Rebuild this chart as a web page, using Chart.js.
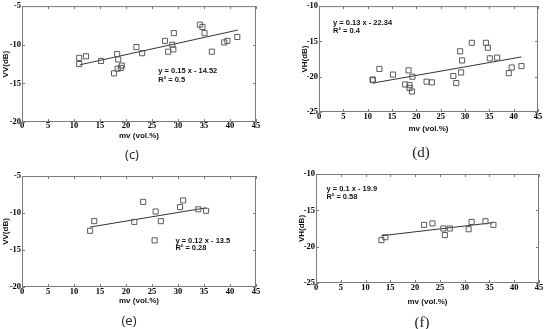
<!DOCTYPE html>
<html>
<head>
<meta charset="utf-8">
<script src="https://cdn.jsdelivr.net/npm/chart.js@4.4.1/dist/chart.umd.min.js"></script>
<style>
  html, body { margin: 0; padding: 0; background: #fff; }
  body { width: 550px; height: 329px; position: relative; overflow: hidden; }
  .panel { position: absolute; width: 275px; }
  .cap { position: absolute; transform: translate(-50%, -50%); white-space: nowrap; color: #222; }
</style>
</head>
<body>
<div class="panel" style="left:0;top:0;height:165px"><canvas id="chartC"></canvas></div>
<div class="panel" style="left:275px;top:0;height:165px"><canvas id="chartD"></canvas></div>
<div class="panel" style="left:0;top:165px;height:164px"><canvas id="chartE"></canvas></div>
<div class="panel" style="left:275px;top:165px;height:164px"><canvas id="chartF"></canvas></div>
<div class="cap" style="left:132px;top:154px;font:13px 'Open Sans',sans-serif">(c)</div>
<div class="cap" style="left:421px;top:152px;font:15px 'Liberation Serif',serif">(d)</div>
<div class="cap" style="left:129px;top:320px;font:13px 'Open Sans',sans-serif">(e)</div>
<div class="cap" style="left:422px;top:322px;font:15px 'Liberation Serif',serif">(f)</div>
<script>
// tick labels
const mvTicks = [0, 5, 10, 15, 20, 25, 30, 35, 40, 45];

// (c) VV vs soil moisture
const mvC = [11.0, 11.0, 12.3, 15.2, 17.7, 18.3, 18.4, 18.5, 19.0, 19.2, 22.0, 23.1, 27.5, 28.1, 28.9, 29.1, 29.2, 34.2, 34.7, 35.1, 36.5, 38.9, 39.5, 41.4];
const vvC = [-11.7, -12.5, -11.5, -12.1, -13.7, -11.2, -13.1, -11.9, -13.0, -12.7, -10.3, -11.1, -9.5, -10.9, -10.0, -10.6, -8.5, -7.4, -7.7, -8.5, -10.9, -9.7, -9.5, -9.0];
const fitCx = [11.1, 41.5];
const fitCy = [-12.6, -8.1];

// (d) VH vs soil moisture
const mvD = [11.0, 11.1, 12.4, 15.2, 17.7, 18.4, 18.6, 18.6, 19.1, 19.2, 22.1, 23.2, 27.6, 28.2, 29.0, 29.2, 29.4, 31.4, 34.3, 34.7, 35.1, 36.6, 39.0, 39.6, 41.6];
const vhD = [-20.4, -20.5, -18.9, -19.7, -21.1, -19.1, -21.2, -21.6, -22.1, -20.0, -20.7, -20.8, -19.9, -20.9, -16.4, -19.4, -17.7, -15.2, -15.2, -15.9, -17.4, -17.3, -19.5, -18.7, -18.5];
const fitDx = [11.1, 41.6];
const fitDy = [-20.9, -17.2];

// (e) VV, second set
const mvE = [13.1, 13.9, 21.6, 23.3, 25.5, 25.7, 26.7, 30.4, 31.0, 33.9, 35.4];
const vvE = [-12.4, -11.1, -11.2, -8.5, -13.7, -9.8, -11.1, -9.2, -8.3, -9.5, -9.7];
const fitEx = [13.1, 35.4];
const fitEy = [-11.9, -9.3];

// (f) VH, second set
const mvF = [13.2, 14.0, 21.8, 23.5, 25.7, 26.0, 27.0, 30.8, 31.4, 34.2, 35.8];
const vhF = [-19.1, -18.7, -17.0, -16.8, -17.5, -18.4, -17.5, -17.6, -16.6, -16.5, -17.0];
const fitFx = [13.2, 35.7];
const fitFy = [-18.5, -16.7];

const eqC = ['y = 0.15 x - 14.52', 'R\u00b2 = 0.5'];
const eqD = ['y = 0.13 x - 22.34', 'R\u00b2 = 0.4'];
const eqE = ['y = 0.12 x - 13.5', 'R\u00b2 = 0.28'];
const eqF = ['y = 0.1 x - 19.9', 'R\u00b2 = 0.58'];

const tickFont = { family: "'Liberation Serif', serif", size: 8.5, weight: 'bold' };
const titleFont = { family: "'Liberation Sans', Arial, sans-serif", size: 8, weight: 'bold' };

// box round the plot with small inward ticks, plus the fit equation
const frameBox = {
  id: 'frameBox',
  afterDatasetsDraw(chart, args, opts) {
    const { ctx, chartArea: a, scales: { x, y } } = chart;
    ctx.save();
    ctx.strokeStyle = '#7a7a7a';
    ctx.lineWidth = 1;
    ctx.strokeRect(a.left + 0.5, a.top + 0.5, a.right - a.left - 1, a.bottom - a.top - 1);
    ctx.beginPath();
    x.ticks.forEach(t => {
      const px = Math.round(x.getPixelForValue(t.value)) + 0.5;
      ctx.moveTo(px, a.bottom); ctx.lineTo(px, a.bottom - 3);
      ctx.moveTo(px, a.top); ctx.lineTo(px, a.top + 3);
    });
    y.ticks.forEach(t => {
      const py = Math.round(y.getPixelForValue(t.value)) + 0.5;
      ctx.moveTo(a.left, py); ctx.lineTo(a.left + 3, py);
      ctx.moveTo(a.right, py); ctx.lineTo(a.right - 3, py);
    });
    ctx.stroke();
    ctx.fillStyle = '#111';
    ctx.font = "bold 7.5px 'Liberation Sans', Arial, sans-serif";
    ctx.textBaseline = 'middle';
    opts.lines.forEach((s, i) => {
      ctx.fillText(s, x.getPixelForValue(opts.atX), y.getPixelForValue(opts.atY[i]));
    });
    ctx.restore();
  }
};

function makePanel(id, xs, ys, fx, fy, yMin, yMax, yTitle, eq, eqX, eqY, g) {
  const pts = xs.map((v, i) => ({ x: v, y: ys[i] }));
  const fit = fx.map((v, i) => ({ x: v, y: fy[i] }));
  return new Chart(document.getElementById(id), {
    type: 'scatter',
    data: {
      datasets: [
        {
          data: pts,
          pointStyle: 'rect',
          pointRadius: 3.6,
          pointBorderWidth: 1,
          pointBorderColor: '#5a5a5a',
          pointBackgroundColor: 'rgba(255,255,255,0)',
          showLine: false
        },
        {
          data: fit,
          showLine: true,
          borderColor: '#333',
          borderWidth: 1,
          pointRadius: 0
        }
      ]
    },
    options: {
      responsive: true,
      maintainAspectRatio: false,
      animation: false,
      events: [],
      layout: { padding: g.pad },
      plugins: {
        legend: { display: false },
        tooltip: { enabled: false },
        frameBox: { lines: eq, atX: eqX, atY: eqY }
      },
      scales: {
        x: {
          type: 'linear', min: 0, max: 45,
          grid: { display: false, drawTicks: false, tickLength: 0 },
          border: { display: false },
          afterBuildTicks: s => { s.ticks = mvTicks.map(v => ({ value: v })); },
          ticks: { autoSkip: false, maxRotation: 0, padding: g.xTickPad, color: '#000', font: tickFont },
          title: { display: true, text: 'mv (vol.%)', color: '#111', font: titleFont, padding: { top: 0, bottom: g.xTitlePad } },
          afterFit: s => { s.height = g.xH; }
        },
        y: {
          type: 'linear', min: yMin, max: yMax,
          grid: { display: false, drawTicks: false, tickLength: 0 },
          border: { display: false },
          ticks: { stepSize: 5, autoSkip: false, padding: g.yTickPad, color: '#000', font: tickFont },
          title: { display: true, text: yTitle, color: '#111', font: titleFont, padding: { top: g.yTitlePad, bottom: 0 } },
          afterFit: s => { s.width = g.yW; }
        }
      }
    },
    plugins: [frameBox]
  });
}

makePanel('chartC', mvC, vvC, fitCx, fitCy, -20, -5, 'VV(dB)', eqC, 26.2, [-13.45, -14.5],
  { pad: { left: 0, right: 19, top: 5, bottom: 0 }, yW: 22, xH: 43, xTickPad: -1, xTitlePad: 24, yTickPad: 1, yTitlePad: 1 });
makePanel('chartD', mvD, vhD, fitDx, fitDy, -25, -10, 'VH(dB)', eqD, 2.9, [-12.4, -13.45],
  { pad: { left: 0, right: 12, top: 6, bottom: 0 }, yW: 44, xH: 53, xTickPad: 0, xTitlePad: 31, yTickPad: 1, yTitlePad: 25 });
makePanel('chartE', mvE, vvE, fitEx, fitEy, -20, -5, 'VV(dB)', eqE, 29.5, [-13.8, -14.75],
  { pad: { left: 0, right: 19, top: 11, bottom: 0 }, yW: 22, xH: 42, xTickPad: 0, xTitlePad: 23, yTickPad: 1, yTitlePad: 1 });
makePanel('chartF', mvF, vhF, fitFx, fitFy, -25, -10, 'VH(dB)', eqF, 2.1, [-12.05, -13.2],
  { pad: { left: 0, right: 11, top: 9, bottom: 0 }, yW: 41, xH: 46, xTickPad: 0, xTitlePad: 22, yTickPad: 1, yTitlePad: 22 });
</script>
</body>
</html>
